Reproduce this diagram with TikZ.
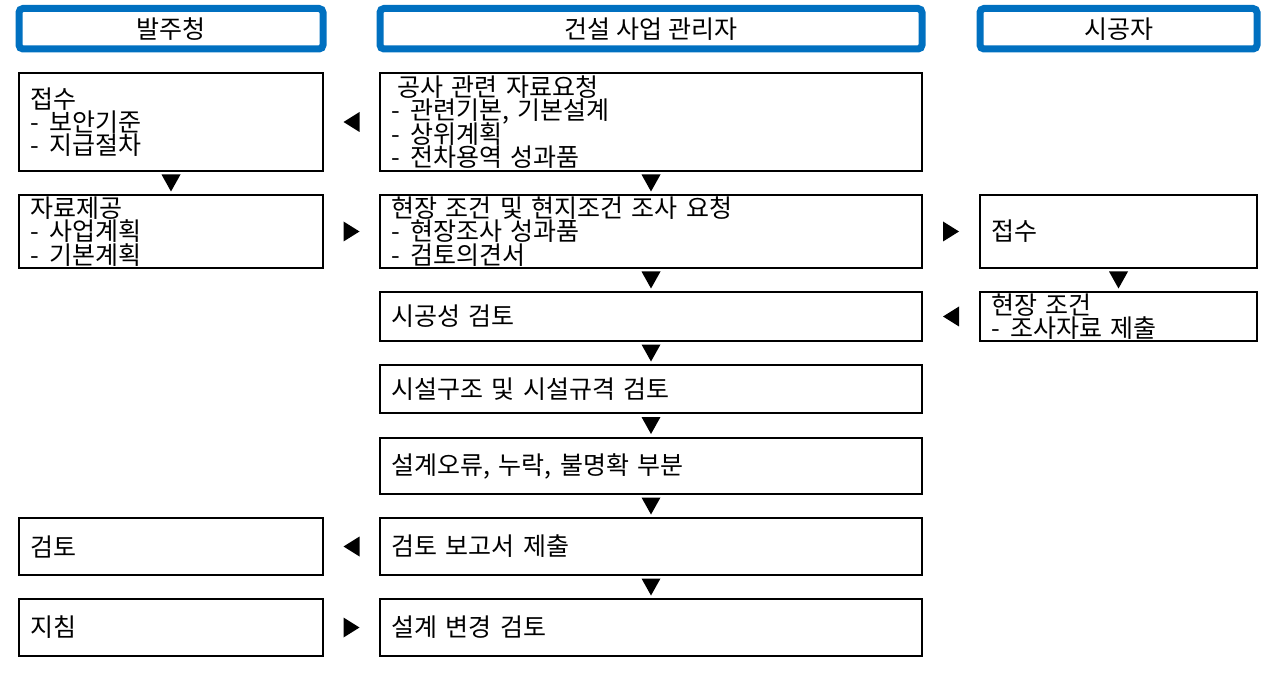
\documentclass[tikz,border=0pt]{standalone}
\usepackage{fontspec}
\setmainfont{Noto Sans CJK KR}
\usetikzlibrary{positioning,calc}
\definecolor{hdblue}{RGB}{0,112,192}
\newcommand{\boxfont}{\fontsize{12.5}{11.6}\selectfont\lineskiplimit=-6pt}
\newcommand{\dash}{-\hspace{5pt}}
\tikzset{
  every node/.style={outer sep=0pt},
  procbox/.style={draw, line width=0.8pt, inner xsep=5.75pt, inner ysep=0pt,
    align=left, font=\boxfont},
  colA/.style={procbox, text width=140.5pt},
  colB/.style={procbox, text width=259.5pt},
  colC/.style={procbox, text width=127pt},
  head/.style={draw=hdblue, line width=3.5pt, rounded corners=2pt, inner sep=0pt,
    minimum height=20.25pt, font=\boxfont},
  dntri/.pic={\fill (-4.75pt,4.25pt) -- (4.75pt,4.25pt) -- (0,-4.25pt) -- cycle;},
  lftri/.pic={\fill (4pt,5pt) -- (4pt,-5pt) -- (-4pt,0) -- cycle;},
  rttri/.pic={\fill (-4pt,5pt) -- (-4pt,-5pt) -- (4pt,0) -- cycle;},
}
\begin{document}
\begin{tikzpicture}
			\useasboundingbox (0,0) rectangle (633.5pt,-336.5pt);
			% 건설 사업 관리자
			\node [colB, minimum height=49pt] (r1) at (325.5pt,-61pt)
				{\hspace{3pt}공사 관련 자료요청\\\dash 관련기본, 기본설계\\\dash 상위계획\\\dash 전차용역 성과품};
			\node [colB, minimum height=36.5pt, below=12pt of r1] (r2)
				{현장 조건 및 현지조건 조사 요청\\\dash 현장조사 성과품\\\dash 검토의견서};
			\node [colB, minimum height=24.5pt, below=12pt of r2] (r3) {시공성 검토};
			\node [colB, minimum height=24pt, below=12pt of r3] (r4) {시설구조 및 시설규격 검토};
			\node [colB, minimum height=28pt, below=12.5pt of r4] (r5) {설계오류, 누락, 불명확 부분};
			\node [colB, minimum height=28.5pt, below=12pt of r5] (r6) {검토 보고서 제출};
			\node [colB, minimum height=28.5pt, below=12pt of r6] (r7) {설계 변경 검토};
			% 발주청
			\node [colA, minimum height=49pt, left=28.5pt of r1] (l1) {접수\\\dash 보안기준\\\dash 지급절차};
			\node [colA, minimum height=36.5pt, left=28.5pt of r2] (l2) {자료제공\\\dash 사업계획\\\dash 기본계획};
			\node [colA, minimum height=28.5pt, left=28.5pt of r6] (l6) {검토};
			\node [colA, minimum height=28.5pt, left=28.5pt of r7] (l7) {지침};
			% 시공자
			\node [colC, minimum height=36.5pt, right=29pt of r2] (c2) {접수};
			\node [colC, minimum height=24.5pt, right=29pt of r3] (c3) {현장 조건\\\dash 조사자료 제출};
			% headers
			\node [head, minimum width=271pt, above=12pt of r1] (h2) {건설 사업 관리자};
			\node [head, minimum width=152pt, left=28.5pt of h2] (h1) {발주청};
			\node [head, minimum width=138.5pt, right=29pt of h2] (h3) {시공자};
			%
			\foreach \a/\b in {r1/r2,r2/r3,r3/r4,r4/r5,r5/r6,r6/r7,l1/l2,c2/c3}
				\pic at ($(\a.south)!0.5!(\b.north)$) {dntri};
			\foreach \a/\b in {l1/r1,r3/c3,l6/r6}
				\pic at ($(\a.east)!0.5!(\b.west)$) {lftri};
			\foreach \a/\b in {l2/r2,r2/c2,l7/r7}
				\pic at ($(\a.east)!0.5!(\b.west)$) {rttri};
\end{tikzpicture}
\end{document}
